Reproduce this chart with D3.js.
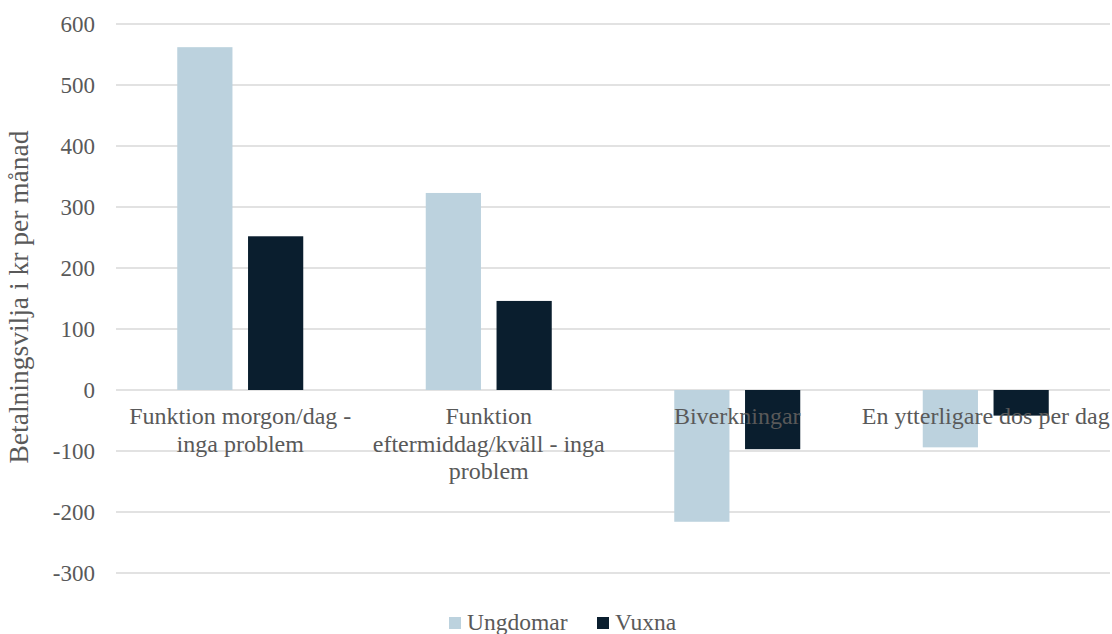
<!DOCTYPE html>
<html>
<head>
<meta charset="utf-8">
<script src="https://cdn.jsdelivr.net/npm/d3@7"></script>
<style>
  body { margin: 0; background: #fff; }
  svg text { font-family: "Liberation Serif", "Times New Roman", serif; fill: #595959; }
</style>
</head>
<body>
<div id="chart"></div>
<script>
var width = 1112;
var height = 634;

// data
var categories = ["Funktion morgon/dag - inga problem", "Funktion eftermiddag/kväll - inga problem", "Biverkningar", "En ytterligare dos per dag"];
var categoryLines = [
  ["Funktion morgon/dag -", "inga problem"],
  ["Funktion", "eftermiddag/kväll - inga", "problem"],
  ["Biverkningar"],
  ["En ytterligare dos per dag"]
];
var series = ["Ungdomar", "Vuxna"];
var ungdomar = [562, 323, -216, -94];
var vuxna = [252, 146, -97, -42];
var yTicks = [-300, -200, -100, 0, 100, 200, 300, 400, 500, 600];
var colors = { "Ungdomar": "#bcd2de", "Vuxna": "#0a1e2e" };

var rows = categories.map(function(c, i) {
  return { cat: c, values: [ { key: "Ungdomar", v: ungdomar[i] }, { key: "Vuxna", v: vuxna[i] } ] };
});

var plotLeft = 116, plotRight = 1110, plotTop = 24, plotBottom = 573;

var x0 = d3.scaleBand().domain(categories).range([plotLeft, plotRight]).padding(0);
var x1 = d3.scaleBand().domain(series).range([-63, 63]).paddingInner(0.22);
var y = d3.scaleLinear().domain([-300, 600]).range([plotBottom, plotTop]);

var svg = d3.select("#chart")
  .append("svg")
    .attr("width", width)
    .attr("height", height);

// gridlines
svg.append("g")
  .selectAll("line")
  .data(yTicks)
  .enter()
    .append("line")
    .attr("x1", plotLeft)
    .attr("x2", plotRight)
    .attr("y1", function(d) { return y(d); })
    .attr("y2", function(d) { return y(d); })
    .attr("stroke", "#d9d9d9")
    .attr("stroke-width", 1.3);

// y axis labels (plain hyphen for negatives, like the original)
var yAxis = d3.axisLeft(y)
  .tickValues(yTicks)
  .tickFormat(function(d) { return String(d); })
  .tickSize(0)
  .tickPadding(0);
var ga = svg.append("g")
  .attr("transform", "translate(95,0)")
  .call(yAxis);
ga.attr("font-family", null).attr("font-size", null);
ga.select(".domain").remove();
ga.selectAll("text")
  .style("font-size", "23px")
  .attr("dy", "0.33em")
  .attr("fill", null);

// bars
var groups = svg.append("g")
  .selectAll("g")
  .data(rows)
  .enter()
    .append("g")
    .attr("transform", function(d) { return "translate(" + (x0(d.cat) + x0.bandwidth() / 2) + ",0)"; });

groups.selectAll("rect")
  .data(function(d) { return d.values; })
  .enter()
    .append("rect")
    .attr("x", function(d) { return x1(d.key); })
    .attr("width", x1.bandwidth())
    .attr("y", function(d) { return y(Math.max(0, d.v)); })
    .attr("height", function(d) { return Math.abs(y(d.v) - y(0)); })
    .attr("fill", function(d) { return colors[d.key]; });

// category labels (drawn over bars)
var labels = svg.append("g")
  .selectAll("text")
  .data(categories)
  .enter()
    .append("text")
    .attr("text-anchor", "middle")
    .style("font-size", "24px")
    .attr("x", function(d) { return x0(d) + x0.bandwidth() / 2; })
    .attr("y", 424);

labels.selectAll("tspan")
  .data(function(d, i) { return categoryLines[i]; })
  .enter()
    .append("tspan")
    .attr("x", function() { return d3.select(this.parentNode).attr("x"); })
    .attr("dy", function(d, i) { return i === 0 ? 0 : 27.5; })
    .text(function(d) { return d; });

// y title
svg.append("text")
  .attr("transform", "translate(28,297) rotate(-90)")
  .attr("text-anchor", "middle")
  .style("font-size", "27.5px")
  .text("Betalningsvilja i kr per månad");

// legend
var legendX = [449, 597];
var legend = svg.append("g")
  .selectAll("g")
  .data(series)
  .enter()
    .append("g")
    .attr("transform", function(d, i) { return "translate(" + legendX[i] + ",617)"; });

legend.append("rect")
  .attr("width", 12)
  .attr("height", 12)
  .attr("fill", function(d) { return colors[d]; });

legend.append("text")
  .attr("x", 18)
  .attr("y", 13)
  .style("font-size", "23.5px")
  .text(function(d) { return d; });
</script>
</body>
</html>
